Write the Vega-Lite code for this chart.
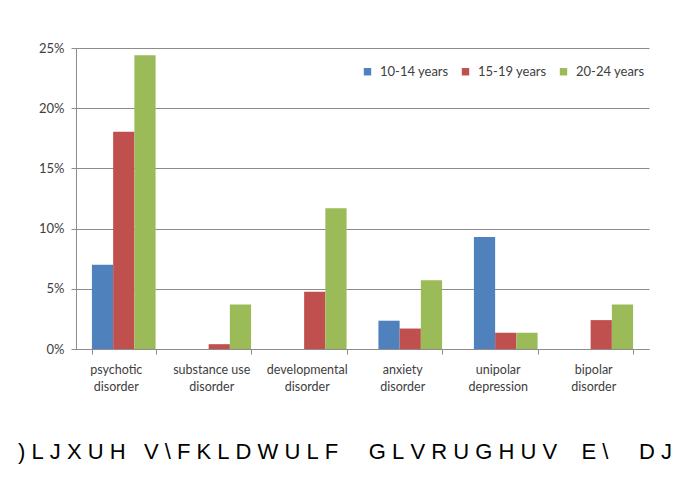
{
  "$schema": "https://vega.github.io/schema/vega-lite/v6.json",
  "width": 573,
  "height": 301,
  "autosize": {"type": "none"},
  "padding": {"left": 76, "top": 48, "right": 29, "bottom": 147},
  "background": "white",
  "title": {
    "text": ")\u00a0L\u00a0J\u00a0X\u00a0U\u00a0H\u00a0\u00a0\u00a0V\u00a0\\\u00a0F\u00a0K\u00a0L\u00a0D\u00a0W\u00a0U\u00a0L\u00a0F\u00a0\u00a0\u00a0\u00a0\u00a0G\u00a0L\u00a0V\u00a0R\u00a0U\u00a0G\u00a0H\u00a0U\u00a0V\u00a0\u00a0\u00a0\u00a0E\u00a0\\\u00a0\u00a0\u00a0\u00a0\u00a0D\u00a0J",
    "orient": "bottom",
    "anchor": "start",
    "frame": "group",
    "dx": -58,
    "offset": 49,
    "font": "Liberation Sans",
    "fontSize": 22,
    "fontWeight": "normal",
    "color": "#000000",
    "baseline": "top"
  },
  "data": {
    "values": [
      {"disorder": "psychotic disorder", "age": "10-14 years", "share": 0.07},
      {"disorder": "psychotic disorder", "age": "15-19 years", "share": 0.1805},
      {"disorder": "psychotic disorder", "age": "20-24 years", "share": 0.244},
      {"disorder": "substance use disorder", "age": "10-14 years", "share": 0},
      {"disorder": "substance use disorder", "age": "15-19 years", "share": 0.004},
      {"disorder": "substance use disorder", "age": "20-24 years", "share": 0.037},
      {"disorder": "developmental disorder", "age": "10-14 years", "share": 0},
      {"disorder": "developmental disorder", "age": "15-19 years", "share": 0.0475},
      {"disorder": "developmental disorder", "age": "20-24 years", "share": 0.117},
      {"disorder": "anxiety disorder", "age": "10-14 years", "share": 0.0235},
      {"disorder": "anxiety disorder", "age": "15-19 years", "share": 0.017},
      {"disorder": "anxiety disorder", "age": "20-24 years", "share": 0.057},
      {"disorder": "unipolar depression", "age": "10-14 years", "share": 0.093},
      {"disorder": "unipolar depression", "age": "15-19 years", "share": 0.0135},
      {"disorder": "unipolar depression", "age": "20-24 years", "share": 0.0135},
      {"disorder": "bipolar disorder", "age": "10-14 years", "share": 0},
      {"disorder": "bipolar disorder", "age": "15-19 years", "share": 0.024},
      {"disorder": "bipolar disorder", "age": "20-24 years", "share": 0.037}
    ]
  },
  "mark": {"type": "bar"},
  "encoding": {
    "x": {
      "field": "disorder",
      "type": "nominal",
      "sort": null,
      "scale": {"paddingInner": 0.3333, "paddingOuter": 0.1667},
      "axis": {
        "title": null,
        "labelAngle": 0,
        "labelExpr": "datum.label == 'substance use disorder' ? ['substance use', 'disorder'] : split(datum.label, ' ')",
        "labelFont": "Lato",
        "labelFontSize": 12.5,
        "labelColor": "#404040",
        "labelPadding": 9,
        "labelLineHeight": 17,
        "labelOffset": -8,
        "tickBand": "extent",
        "tickSize": 5,
        "tickColor": "#8c8c8c",
        "domainColor": "#8c8c8c",
        "grid": false
      }
    },
    "xOffset": {"field": "age", "type": "nominal"},
    "y": {
      "field": "share",
      "type": "quantitative",
      "scale": {"domain": [0, 0.25], "nice": false},
      "axis": {
        "title": null,
        "format": ".0%",
        "values": [0, 0.05, 0.1, 0.15, 0.2, 0.25],
        "labelFont": "Lato",
        "labelFontSize": 13,
        "labelColor": "#404040",
        "labelPadding": 7,
        "tickSize": 5,
        "tickColor": "#8c8c8c",
        "domainColor": "#8c8c8c",
        "gridColor": "#8c8c8c",
        "gridWidth": 1
      }
    },
    "color": {
      "field": "age",
      "type": "nominal",
      "scale": {"range": ["#4F81BD", "#C0504D", "#9BBB59"]},
      "legend": {
        "title": null,
        "orient": "none",
        "direction": "horizontal",
        "legendX": 285,
        "legendY": 17,
        "symbolType": "square",
        "symbolSize": 55,
        "symbolStrokeWidth": 0,
        "labelFont": "Lato",
        "labelFontSize": 13,
        "labelColor": "#404040",
        "labelOffset": 6,
        "columnPadding": 10
      }
    }
  },
  "config": {
    "view": {"stroke": null}
  }
}
